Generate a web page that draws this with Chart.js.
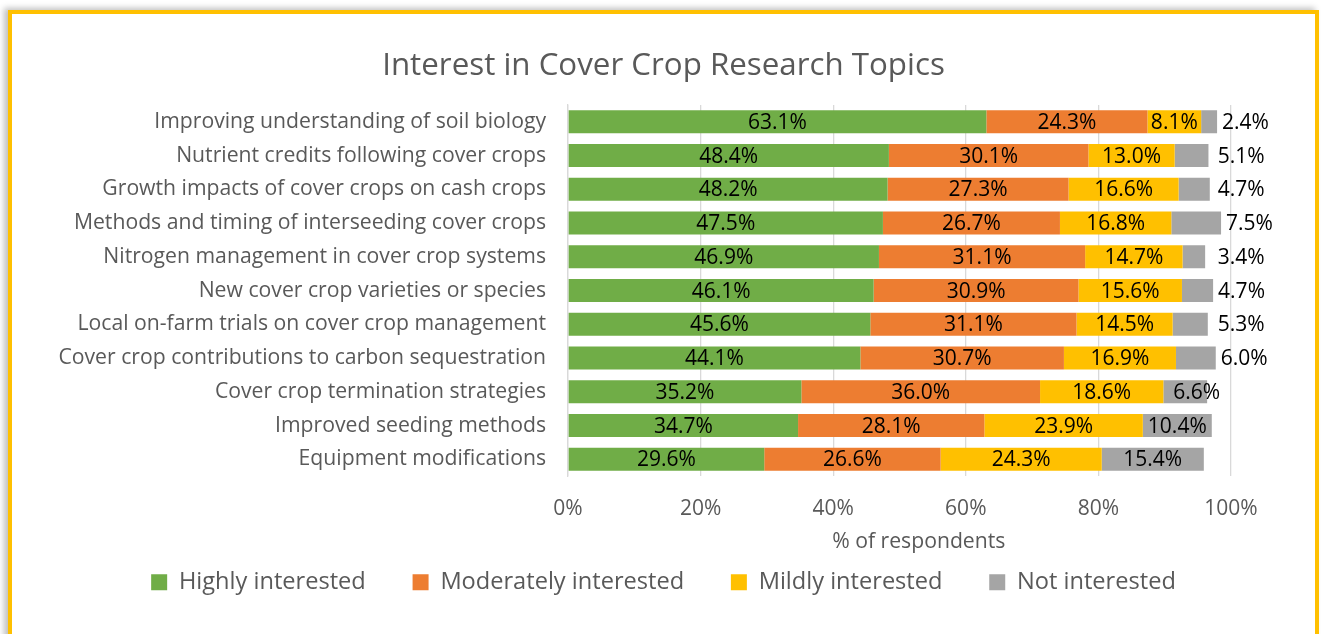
<!DOCTYPE html>
<html>
<head>
<meta charset="utf-8">
<script src="https://cdn.jsdelivr.net/npm/chart.js@4.4.1/dist/chart.umd.min.js"></script>
<style>
  html, body { margin: 0; padding: 0; background: #ffffff; width: 1321px; height: 634px; overflow: hidden; }
  #frame {
    position: absolute; left: 8px; top: 10px; width: 1303px; height: 640px;
    border: 4px solid #FFC000; background: #ffffff;
    box-shadow: -4px -2px 6px rgba(0,0,0,0.25);
  }
  #wrap { position: absolute; left: 0; top: 0; width: 1303px; height: 620px; }
</style>
</head>
<body>
<div id="frame"><div id="wrap"><canvas id="c" width="1303" height="620"></canvas></div></div>
<script>
const categories = [
  "Improving understanding of soil biology",
  "Nutrient credits following cover crops",
  "Growth impacts of cover crops on cash crops",
  "Methods and timing of interseeding cover crops",
  "Nitrogen management in cover crop systems",
  "New cover crop varieties or species",
  "Local on-farm trials on cover crop management",
  "Cover crop contributions to carbon sequestration",
  "Cover crop termination strategies",
  "Improved seeding methods",
  "Equipment modifications"
];
const highlyInterested     = [63.1, 48.4, 48.2, 47.5, 46.9, 46.1, 45.6, 44.1, 35.2, 34.7, 29.6];
const moderatelyInterested = [24.3, 30.1, 27.3, 26.7, 31.1, 30.9, 31.1, 30.7, 36.0, 28.1, 26.6];
const mildlyInterested     = [ 8.1, 13.0, 16.6, 16.8, 14.7, 15.6, 14.5, 16.9, 18.6, 23.9, 24.3];
const notInterested        = [ 2.4,  5.1,  4.7,  7.5,  3.4,  4.7,  5.3,  6.0,  6.6, 10.4, 15.4];
const seriesNames = ["Highly interested", "Moderately interested", "Mildly interested", "Not interested"];
const xTicks = [0, 20, 40, 60, 80, 100];

const FONT = "'Open Sans', sans-serif";
const TXT = "#595959";

const labelPlugin = {
  id: 'segLabels',
  afterDatasetsDraw(chart) {
    const ctx = chart.ctx;
    const xs = chart.scales.x;
    ctx.save();
    ctx.font = "21px " + FONT;
    ctx.fillStyle = "#000000";
    ctx.textBaseline = "middle";
    chart.data.datasets.forEach((ds, di) => {
      const meta = chart.getDatasetMeta(di);
      meta.data.forEach((bar, i) => {
        const v = ds.data[i];
        const txt = v.toFixed(1) + "%";
        const w = ctx.measureText(txt).width;
        const left = Math.min(bar.x, bar.base), right = Math.max(bar.x, bar.base);
        if (di < 3 || v >= 10) {
          ctx.textAlign = "center";
          ctx.fillText(txt, (left + right) / 2, bar.y + 1);
        } else {
          let total = 0;
          chart.data.datasets.forEach(d => total += d.data[i]);
          ctx.textAlign = "left";
          let x;
          if (total < 97 && v >= 6.5) x = right + 13 - w;
          else x = Math.max(right + 5, xs.getPixelForValue(98));
          ctx.fillText(txt, x, bar.y + 1);
        }
      });
    });
    ctx.restore();
  }
};

const colors = ["#70AD47", "#ED7D31", "#FFC000", "#A5A5A5"];
const values = [highlyInterested, moderatelyInterested, mildlyInterested, notInterested];

new Chart(document.getElementById('c'), {
  type: 'bar',
  data: {
    labels: categories,
    datasets: seriesNames.map((n, k) => ({
      label: n,
      data: values[k],
      backgroundColor: colors[k],
      borderWidth: 0,
      categoryPercentage: 1.0,
      barPercentage: 0.68
    }))
  },
  options: {
    indexAxis: 'y',
    responsive: false,
    animation: false,
    devicePixelRatio: 1,
    layout: { padding: { left: 0, right: 0, top: 0, bottom: 30 } },
    scales: {
      x: {
        stacked: true,
        min: 0, max: 100,
        afterBuildTicks: (s) => { s.ticks = xTicks.map(v => ({ value: v })); },
        ticks: { callback: v => v + "%", color: TXT, font: { family: FONT, size: 21 }, padding: 20.4 },
        grid: { color: "#D9D9D9", drawTicks: false, lineWidth: 1.3 },
        border: { display: false },
        title: { display: true, text: "       % of respondents", color: TXT, font: { family: FONT, size: 21.2 }, padding: { top: -12.7, bottom: 5.5 } }
      },
      y: {
        stacked: true,
        afterFit: (s) => { s.width = 556; },
        ticks: { color: TXT, font: { family: FONT, size: 21.2 }, padding: 22, autoSkip: false },
        grid: { display: false, drawTicks: false },
        border: { display: true, color: "#D9D9D9", width: 1.3 }
      },
      yRight: {
        type: 'linear',
        position: 'right',
        display: true,
        afterFit: (s) => { s.width = 84; },
        ticks: { display: false },
        grid: { display: false, drawTicks: false },
        border: { display: false }
      }
    },
    plugins: {
      title: { display: true, text: "Interest in Cover Crop Research Topics", color: TXT,
               font: { family: FONT, size: 31.3, weight: 'normal' }, padding: { top: 33.6, bottom: 19.8 } },
      legend: {
        position: 'bottom',
        labels: {
          color: TXT, font: { family: FONT, size: 23.6 }, boxWidth: 16, boxHeight: 16, padding: 10,
          generateLabels: (chart) => {
            const items = Chart.defaults.plugins.legend.labels.generateLabels(chart);
            items.forEach((it, i) => { if (i < items.length - 1) it.text = it.text + "      "; });
            return items;
          }
        }
      },
      tooltip: { enabled: false }
    }
  },
  plugins: [labelPlugin]
});
</script>
</body>
</html>
